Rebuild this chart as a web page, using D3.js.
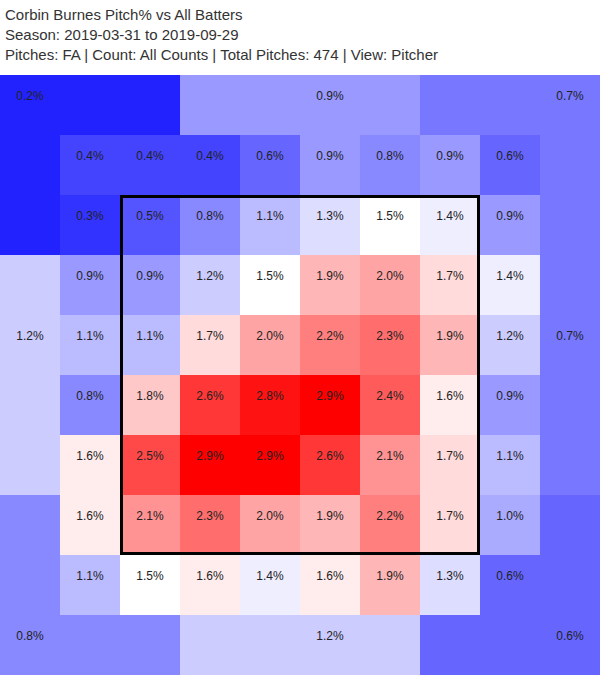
<!DOCTYPE html>
<html><head><meta charset="utf-8">
<script src="https://cdn.jsdelivr.net/npm/d3@7"></script>
<style>
html,body{margin:0;padding:0;background:#fff;}
svg{display:block;}
</style>
</head><body>
<div id="chart"></div>
<script>
// ---- data ----
const titleLines = [
  "Corbin Burnes Pitch% vs All Batters",
  "Season: 2019-03-31 to 2019-09-29",
  "Pitches: FA | Count: All Counts | Total Pitches: 474 | View: Pitcher"
];
// inner 8x8 grid, rows top->bottom, columns left->right (percent)
const innerValues = [
  [0.4, 0.4, 0.4, 0.6, 0.9, 0.8, 0.9, 0.6],
  [0.3, 0.5, 0.8, 1.1, 1.3, 1.5, 1.4, 0.9],
  [0.9, 0.9, 1.2, 1.5, 1.9, 2.0, 1.7, 1.4],
  [1.1, 1.1, 1.7, 2.0, 2.2, 2.3, 1.9, 1.2],
  [0.8, 1.8, 2.6, 2.8, 2.9, 2.4, 1.6, 0.9],
  [1.6, 2.5, 2.9, 2.9, 2.6, 2.1, 1.7, 1.1],
  [1.6, 2.1, 2.3, 2.0, 1.9, 2.2, 1.7, 1.0],
  [1.1, 1.5, 1.6, 1.4, 1.6, 1.9, 1.3, 0.6]
];
const outerZones  = ["topLeft", "topMid", "topRight", "left", "right", "bottomLeft", "bottomMid", "bottomRight"];
const outerValues = [0.2, 0.9, 0.7, 1.2, 0.7, 0.8, 1.2, 0.6];

// ---- layout ----
const W = 600, H = 675, gridTop = 75;
const N = 10; // full grid of 10x10 cells
const x = d3.scaleBand().domain(d3.range(N)).range([0, W]);
const y = d3.scaleBand().domain(d3.range(N)).range([gridTop, H]);
const color = d3.scaleLinear().domain([0, 1.5, 2.9])
  .range(["#0000ff", "#ffffff", "#ff0000"]).clamp(true);
const fmt = v => v.toFixed(1) + "%";

// outer zone cell membership [row, col] and label cell
const zoneLayout = {
  topLeft:     {cells: [[0,0],[0,1],[0,2],[1,0],[2,0]], label: [0,0]},
  topMid:      {cells: [[0,3],[0,4],[0,5],[0,6]], label: [0,5]},
  topRight:    {cells: [[0,7],[0,8],[0,9],[1,9],[2,9]], label: [0,9]},
  left:        {cells: [[3,0],[4,0],[5,0],[6,0]], label: [4,0]},
  right:       {cells: [[3,9],[4,9],[5,9],[6,9]], label: [4,9]},
  bottomLeft:  {cells: [[7,0],[8,0],[9,0],[9,1],[9,2]], label: [9,0]},
  bottomMid:   {cells: [[9,3],[9,4],[9,5],[9,6]], label: [9,5]},
  bottomRight: {cells: [[7,9],[8,9],[9,7],[9,8],[9,9]], label: [9,9]}
};

const svg = d3.select("#chart").append("svg")
  .attr("width", W).attr("height", H)
  .style("font-family", "Arial, 'Liberation Sans', sans-serif");

svg.selectAll("text.title").data(titleLines).join("text")
  .attr("class", "title")
  .attr("x", 5).attr("y", (d, i) => 20 + i * 20)
  .attr("font-size", 15).attr("fill", "#333")
  .text(d => d);

const outerCells = [];
const outerLabels = [];
outerZones.forEach((z, i) => {
  const lay = zoneLayout[z];
  lay.cells.forEach(([r, c]) => outerCells.push({r, c, v: outerValues[i]}));
  outerLabels.push({r: lay.label[0], c: lay.label[1], v: outerValues[i]});
});
const innerCells = [];
innerValues.forEach((row, r) => row.forEach((v, c) => innerCells.push({r: r + 1, c: c + 1, v})));

const g = svg.append("g");
g.selectAll("rect.cell").data(outerCells.concat(innerCells)).join("rect")
  .attr("class", "cell")
  .attr("x", d => x(d.c)).attr("y", d => y(d.r))
  .attr("width", x.bandwidth()).attr("height", y.bandwidth())
  .attr("fill", d => color(d.v))
  .attr("shape-rendering", "crispEdges");

g.selectAll("text.lab").data(outerLabels.concat(innerCells)).join("text")
  .attr("class", "lab")
  .attr("x", d => x(d.c) + x.bandwidth() / 2)
  .attr("y", d => y(d.r) + 25)
  .attr("text-anchor", "middle")
  .attr("font-size", 12).attr("fill", "#222")
  .text(d => fmt(d.v));

// strike zone (inner cells 2..7 of the 10x10 grid)
const sw = 3;
svg.append("rect")
  .attr("x", x(2) + sw / 2).attr("y", y(2) + sw / 2)
  .attr("width", x(8) - x(2) - sw).attr("height", y(8) - y(2) - sw)
  .attr("fill", "none").attr("stroke", "#000").attr("stroke-width", sw);
</script>
</body></html>
